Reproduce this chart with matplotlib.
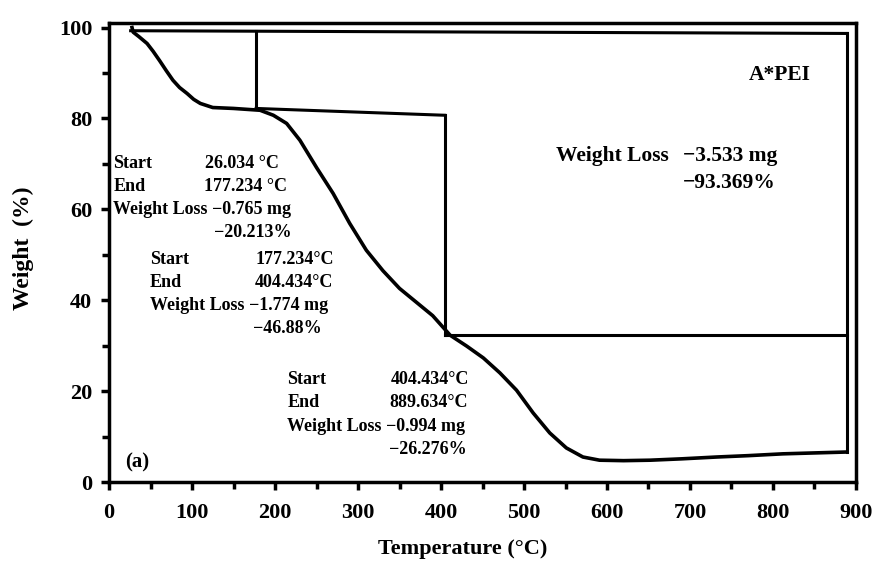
import numpy as np
import matplotlib.pyplot as plt
from matplotlib.ticker import MultipleLocator

# TGA curve
temp = [27.7, 29, 36, 45.8, 53, 61, 69, 77, 85, 94, 102, 110, 125, 150, 182, 198, 214,
        230, 250, 270, 290, 310, 330, 350, 370, 390, 411, 431, 451, 471, 491, 511, 531,
        551, 571, 591, 620, 652, 690, 732, 770, 812, 850, 889]
weight = [100, 99, 98, 96.5, 94.8, 92.7, 90.5, 88.4, 86.8, 85.5, 84.2, 83.3, 82.4, 82.2, 81.8,
          80.7, 78.9, 75.2, 69.2, 63.5, 56.9, 51, 46.5, 42.6, 39.6, 36.6, 32.3, 29.9, 27.3,
          24, 20.2, 15.2, 10.8, 7.5, 5.5, 4.8, 4.7, 4.8, 5.1, 5.5, 5.8, 6.2, 6.4, 6.6]

# step boundaries (start / end temperatures) and bracket levels
step_t = [26.034, 177.234, 404.434, 889.634]
top_w = [99.3, 98.7]
step1_w = [82.2, 80.7]
step2_w = 32.3
end_w = 6.6

blocks = [
    ("Start", "26.034 \u00b0C", "End", "177.234 \u00b0C", "-0.765 mg", "-20.213%"),
    ("Start", "177.234\u00b0C", "End", "404.434\u00b0C", "-1.774 mg", "-46.88%"),
    ("Start", "404.434\u00b0C", "End", "889.634\u00b0C", "-0.994 mg", "-26.276%"),
]
block_x = [(5, 116, 123), (49.5, 177, 170), (215, 340, 334)]
block_y = [70.1, 49.0, 22.5]

plt.rcParams['font.family'] = ['Liberation Serif', 'DejaVu Serif']
plt.rcParams['font.weight'] = 'bold'
plt.rcParams['axes.unicode_minus'] = True

fig = plt.figure(figsize=(8.73, 5.61), dpi=100)
ax = fig.add_axes([0.1249, 0.1408, 0.8556, 0.8182])

ax.plot(temp, weight, '-k', lw=2.6)

# brackets
lw_b = 2.2
ax.plot([step_t[0], step_t[3]], top_w, '-k', lw=lw_b)
ax.plot([step_t[1], step_t[1]], [np.interp(step_t[1], [step_t[0], step_t[3]], top_w), step1_w[0]], '-k', lw=lw_b)
ax.plot([step_t[1], step_t[2]], step1_w, '-k', lw=lw_b)
ax.plot([step_t[2], step_t[2]], [step1_w[1], step2_w], '-k', lw=lw_b)
ax.plot([step_t[2], step_t[3]], [step2_w, step2_w], '-k', lw=lw_b)
ax.plot([step_t[3], step_t[3]], [top_w[1], end_w], '-k', lw=lw_b)

fs = 13
for (s, sv, e, ev, mg, pc), (x0, x1, x2), y0 in zip(blocks, block_x, block_y):
    dy = 5.1
    ax.text(x0, y0, s, fontsize=fs, va='center')
    ax.text(x1, y0, sv, fontsize=fs, va='center')
    ax.text(x0, y0 - dy, e, fontsize=fs, va='center')
    ax.text(x1 - 2, y0 - dy, ev, fontsize=fs, va='center')
    ax.text(x0, y0 - 2 * dy, "Weight Loss " + mg.replace('-', '\u2212'), fontsize=fs, va='center')
    ax.text(x2 + 3, y0 - 3 * dy, pc.replace('-', '\u2212'), fontsize=fs, va='center')

ax.text(538, 71.8, "Weight Loss", fontsize=15.5, va='center')
ax.text(692, 71.8, "\u22123.533 mg", fontsize=15.5, va='center')
ax.text(692, 65.7, "\u221293.369%", fontsize=15.5, va='center')
ax.text(771, 89.5, "A*PEI", fontsize=15.5, va='center')
ax.text(19, 4.2, "(a)", fontsize=15, va='center')

ax.set_xlim(0, 900)
ax.set_ylim(0, 101)
ax.xaxis.set_major_locator(MultipleLocator(100))
ax.xaxis.set_minor_locator(MultipleLocator(50))
ax.yaxis.set_major_locator(MultipleLocator(20))
ax.yaxis.set_minor_locator(MultipleLocator(10))
ax.tick_params(which='both', direction='out', width=2.5, labelsize=16)
ax.tick_params(axis='x', which='major', length=6, pad=9)
ax.tick_params(axis='y', which='major', length=6, pad=6)
ax.tick_params(which='minor', length=5)
for sp in ax.spines.values():
    sp.set_linewidth(2.5)

ax.set_xlabel("Temperature (\u00b0C)", fontsize=16, fontweight='bold')
ax.xaxis.set_label_coords(0.474, -0.124)
ax.set_ylabel("Weight  (%)", fontsize=17, fontweight='bold')
ax.yaxis.set_label_coords(-0.101, 0.51)

fig.savefig('out.png', dpi=100)
